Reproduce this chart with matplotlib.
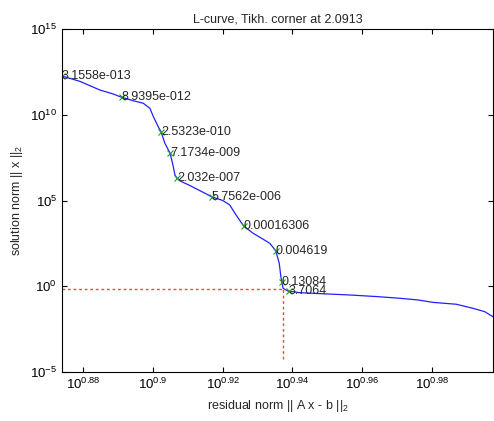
import matplotlib
matplotlib.use('Agg')
import matplotlib.pyplot as plt
import numpy as np

plt.rcParams['font.family'] = ['Liberation Sans', 'DejaVu Sans']
plt.rcParams['mathtext.fontset'] = 'custom'
plt.rcParams['mathtext.rm'] = 'Liberation Sans'
plt.rcParams['mathtext.it'] = 'Liberation Sans'
plt.rcParams['font.size'] = 9

# curve (log10 of residual norm / solution norm)
rho_log10 = [0.8739, 0.8790, 0.8848, 0.8886, 0.8910, 0.8943, 0.8972, 0.8991, 0.9001,
             0.9015, 0.9023, 0.9034, 0.9049, 0.9056, 0.9063, 0.9069, 0.9082, 0.9105,
             0.9134, 0.9168, 0.9200, 0.9220, 0.9235, 0.9260, 0.9287, 0.9316, 0.9335,
             0.9352, 0.9362, 0.9366, 0.9369, 0.9373, 0.9387, 0.9421, 0.9490, 0.9564,
             0.9640, 0.9707, 0.9760, 0.9803, 0.9870, 0.9918, 0.9951, 0.9975]
eta_log10 = [12.26, 11.95, 11.44, 11.21, 11.02, 10.82, 10.67, 10.38, 9.89,
             9.30, 9.01, 8.34, 7.75, 7.17, 6.49, 6.29, 6.10, 5.88,
             5.58, 5.22, 5.00, 4.74, 4.25, 3.51, 3.09, 2.74, 2.50,
             2.07, 1.34, 0.66, 0.27, -0.12, -0.28, -0.375, -0.44, -0.51,
             -0.60, -0.70, -0.80, -0.94, -1.05, -1.29, -1.48, -1.78]

# labelled points
lab_rho_log10 = [0.8739, 0.8910, 0.9023, 0.9049, 0.9069, 0.9168, 0.9260, 0.9352, 0.9369, 0.9390]
lab_eta_log10 = [12.26, 11.02, 9.01, 7.75, 6.29, 5.22, 3.51, 2.07, 0.27, -0.26]
lab_text = ['3.1558e-013', '8.9395e-012', '2.5323e-010', '7.1734e-009', '2.032e-007',
            '5.7562e-006', '0.00016306', '0.004619', '0.13084', '3.7064']

corner_rho_log10 = 0.9373
corner_eta_log10 = -0.18
vline_bottom_log10 = -4.26

xtick_exp = ['0.88', '0.9', '0.92', '0.94', '0.96', '0.98']
ytick_exp = [-5, 0, 5, 10, 15]

rho = 10 ** np.array(rho_log10)
eta = 10 ** np.array(eta_log10)
lrho = 10 ** np.array(lab_rho_log10)
leta = 10 ** np.array(lab_eta_log10)
rc = 10 ** corner_rho_log10
ec = 10 ** corner_eta_log10

fig = plt.figure(figsize=(4.94, 4.21), dpi=100)
ax = fig.add_axes([0.1255, 0.1164, 0.8725, 0.8147])

ax.loglog(rho, eta, color='#2020ff', lw=0.9)
ax.plot(lrho, leta, 'x', color='#20a020', ms=4, mew=0.8)
for x, y, t in zip(lrho, leta, lab_text):
    ax.text(x, y, t, ha='left', va='center', fontsize=9, color='#262626')

xmin = 10 ** 0.8739
ax.plot([xmin, rc], [ec, ec], color='#ff4040', lw=1, ls=(0, (2, 2)))
ax.plot([rc, rc], [10 ** vline_bottom_log10, ec], color='#ff4040', lw=1, ls=(0, (2, 2)))

ax.set_xlim(xmin, 10 ** 0.9975)
ax.set_ylim(1e-5, 1e15)
ax.set_xticks([10 ** float(e) for e in xtick_exp])
ax.set_xticklabels([r'$\mathregular{10^{%s}}$' % e for e in xtick_exp])
ax.set_yticks([10.0 ** e for e in ytick_exp])
ax.set_yticklabels([r'$\mathregular{10^{%d}}$' % e for e in ytick_exp])
ax.minorticks_off()
ax.tick_params(direction='in', length=3.5, width=0.8, top=True, right=True, labelsize=9.5)
for s in ax.spines.values():
    s.set_linewidth(0.8)

ax.set_title('L-curve, Tikh. corner at 2.0913', fontsize=9, color='#262626', pad=5)
ax.set_xlabel(r'residual norm || A x - b ||$_2$', fontsize=9, color='#262626')
ax.set_ylabel(r'solution norm || x ||$_2$', fontsize=9, color='#262626')

fig.savefig('out.png', dpi=100)
